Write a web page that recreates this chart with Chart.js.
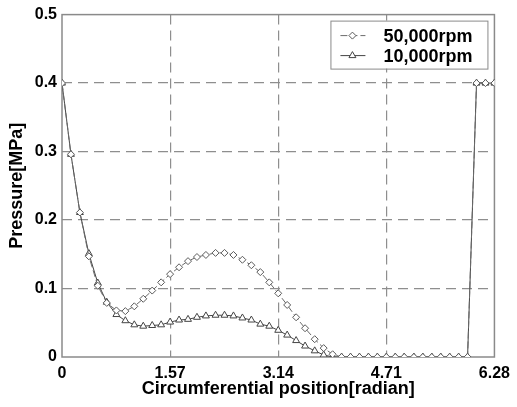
<!DOCTYPE html>
<html>
<head>
<meta charset="utf-8">
<script src="https://cdn.jsdelivr.net/npm/chart.js"></script>
<style>
  body { margin: 0; background: #fff; }
</style>
</head>
<body>
<canvas id="pressure" width="517" height="407"></canvas>
<script>
// circumferential positions (radian)
const positions = [0, 0.13, 0.26, 0.39, 0.52, 0.65, 0.79, 0.92, 1.05, 1.18, 1.31, 1.44, 1.57, 1.70, 1.83, 1.96, 2.09, 2.23, 2.36, 2.49, 2.62, 2.75, 2.88, 3.01, 3.14, 3.27, 3.40, 3.53, 3.67, 3.80, 3.93, 4.06, 4.19, 4.32, 4.45, 4.58, 4.71, 4.84, 4.97, 5.11, 5.24, 5.37, 5.50, 5.63, 5.76, 5.89, 6.02, 6.15, 6.28]

// pressure [MPa]
const rpm50k = [0.400, 0.296, 0.211, 0.147, 0.104, 0.079, 0.068, 0.067, 0.074, 0.085, 0.097, 0.109, 0.121, 0.131, 0.140, 0.146, 0.149, 0.152, 0.152, 0.149, 0.142, 0.134, 0.124, 0.109, 0.093, 0.076, 0.058, 0.042, 0.026, 0.013, 0.004, 0, 0, 0, 0, 0, 0, 0, 0, 0, 0, 0, 0, 0, 0, 0, 0.400, 0.400, 0.400]
const rpm10k = [0.400, 0.296, 0.211, 0.151, 0.108, 0.080, 0.062, 0.053, 0.047, 0.045, 0.046, 0.047, 0.051, 0.054, 0.055, 0.058, 0.060, 0.061, 0.061, 0.060, 0.057, 0.054, 0.048, 0.045, 0.039, 0.032, 0.024, 0.016, 0.009, 0.003, 0, 0, 0, 0, 0, 0, 0, 0, 0, 0, 0, 0, 0, 0, 0, 0, 0.400, 0.400, 0.400]

const seriesNames = ['50,000rpm', '10,000rpm']

const xTicks = [0, 1.57, 3.14, 4.71, 6.28]
const xTickLabels = ['0', '1.57', '3.14', '4.71', '6.28']
const yTicks = [0, 0.1, 0.2, 0.3, 0.4, 0.5]
const yTickLabels = ['0', '0.1', '0.2', '0.3', '0.4', '0.5']

const FONT = 'Liberation Sans, Arial, Helvetica, sans-serif'
const GRID = '#8e8e8e'

function pairs(ys) {
  return ys.map((y, i) => ({ x: positions[i], y: y }))
}

// hide the grid line on the plot edge, the frame draws it
function gridColor(last) {
  return (c) => {
    if (!c.tick) return GRID
    const v = c.tick.value
    if (Math.abs(v) < 1e-9 || Math.abs(v - last) < 1e-9) return 'rgba(0,0,0,0)'
    return GRID
  }
}

const frame = {
  id: 'frame',
  beforeDatasetsDraw(chart) {
    const a = chart.chartArea
    const ctx = chart.ctx
    ctx.save()
    ctx.strokeStyle = '#8a8a8a'
    ctx.lineWidth = 1.5
    ctx.strokeRect(a.left, a.top, a.right - a.left, a.bottom - a.top)
    ctx.restore()
  }
}

const boxLegend = {
  id: 'boxLegend',
  afterDraw(chart) {
    const a = chart.chartArea
    const ctx = chart.ctx
    const w = 157, h = 48
    const left = a.right - 7 - w
    const top = a.top + 6
    ctx.save()
    ctx.fillStyle = '#fff'
    ctx.fillRect(left, top, w, h)
    ctx.strokeStyle = '#8a8a8a'
    ctx.lineWidth = 1
    ctx.strokeRect(left + 0.5, top + 0.5, w, h)

    chart.data.datasets.forEach((ds, i) => {
      const y = top + 15 + i * 20
      ctx.strokeStyle = ds.borderColor
      ctx.lineWidth = 1
      ctx.setLineDash(ds.borderDash || [])
      ctx.beginPath()
      ctx.moveTo(left + 10, y)
      ctx.lineTo(left + 35, y)
      ctx.stroke()
      ctx.setLineDash([])
      ctx.fillStyle = ds.pointBackgroundColor
      ctx.strokeStyle = ds.pointBorderColor
      Chart.helpers.drawPoint(ctx, { pointStyle: ds.pointStyle, radius: ds.pointRadius, borderWidth: 1, rotation: 0 }, left + 22, y)

      ctx.fillStyle = '#000'
      ctx.font = 'bold 18px ' + FONT
      ctx.textBaseline = 'middle'
      ctx.textAlign = 'left'
      ctx.fillText(ds.label, left + 53, y + 1)
    })
    ctx.restore()
  }
}

const data = {
  datasets: [{
    label: seriesNames[0],
    data: pairs(rpm50k),
    borderColor: '#6a6a6a',
    borderWidth: 1,
    borderDash: [7, 3],
    pointStyle: 'rectRot',
    pointRadius: 3.5,
    pointBorderColor: '#5a5a5a',
    pointBackgroundColor: '#fff',
    pointBorderWidth: 1
  }, {
    label: seriesNames[1],
    data: pairs(rpm10k),
    borderColor: '#444',
    borderWidth: 1,
    pointStyle: 'triangle',
    pointRadius: 4,
    pointBorderColor: '#444',
    pointBackgroundColor: '#fff',
    pointBorderWidth: 1
  }]
}

const config = {
  type: 'line',
  data: data,
  options: {
    responsive: false,
    animation: false,
    layout: { padding: { left: 0, right: 17, top: 13, bottom: 0 } },
    plugins: {
      legend: { display: false },
      tooltip: { enabled: false }
    },
    scales: {
      x: {
        type: 'linear',
        min: 0,
        max: 6.28,
        afterBuildTicks: (s) => { s.ticks = xTicks.map(v => ({ value: v })) },
        afterFit: (s) => { s.height = 50 },
        ticks: {
          autoSkip: false,
          maxRotation: 0,
          padding: 7,
          color: '#000',
          font: { family: FONT, size: 16, weight: 'bold' },
          callback: (v, i) => xTickLabels[i]
        },
        grid: { color: gridColor(6.28), drawTicks: false, lineWidth: 1.2 },
        border: { display: false, dash: [10, 6] },
        title: {
          display: true,
          text: 'Circumferential position[radian]',
          color: '#000',
          font: { family: FONT, size: 18, weight: 'bold' },
          padding: { top: 0, bottom: 7 }
        }
      },
      y: {
        min: 0,
        max: 0.5,
        afterBuildTicks: (s) => { s.ticks = yTicks.map(v => ({ value: v })) },
        afterFit: (s) => { s.width = 62 },
        ticks: {
          padding: 5,
          color: '#000',
          font: { family: FONT, size: 16, weight: 'bold' },
          callback: (v, i) => yTickLabels[i]
        },
        grid: { color: gridColor(0.5), drawTicks: false, lineWidth: 1.2 },
        border: { display: false, dash: [10, 6] },
        title: {
          display: true,
          text: 'Pressure[MPa]',
          color: '#000',
          font: { family: FONT, size: 18, weight: 'bold' },
          padding: { top: 6, bottom: 0 }
        }
      }
    }
  },
  plugins: [frame, boxLegend]
}

const pressureChart = new Chart(document.getElementById('pressure'), config)
</script>
</body>
</html>
